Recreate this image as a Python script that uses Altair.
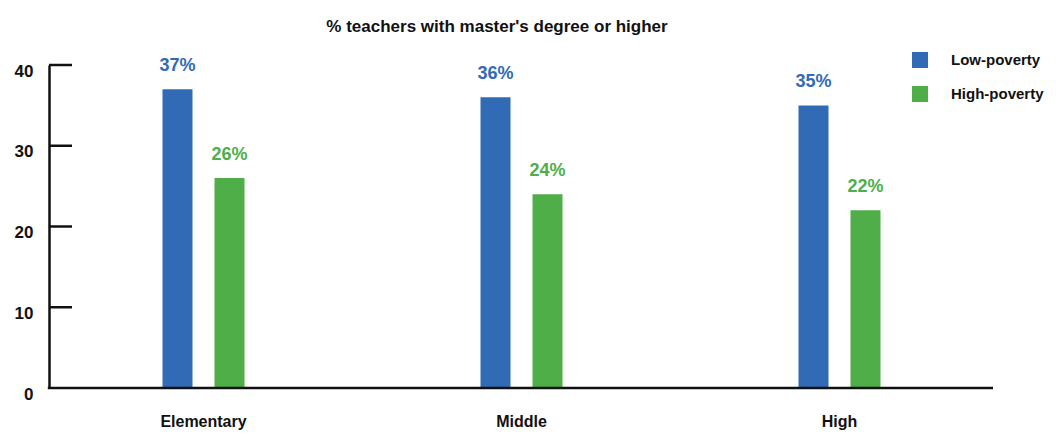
import altair as alt
import pandas as pd

levels = ["Elementary", "Middle", "High"]
groups = ["Low-poverty", "High-poverty"]
low_values = [37, 36, 35]
high_values = [26, 24, 22]
tick_values = [0, 10, 20, 30, 40]
colors = ["#316BB5", "#50AE48"]

FONT = "Liberation Sans, Arial, sans-serif"

rows = []
for i, lv in enumerate(levels):
    rows.append({"level": lv, "group": groups[0], "value": low_values[i]})
    rows.append({"level": lv, "group": groups[1], "value": high_values[i]})
df = pd.DataFrame(rows)
df["label"] = df["value"].astype(str) + "%"

ticks_df = pd.DataFrame({"t": tick_values[1:]})
base_df = pd.DataFrame({"t": [0]})

x_enc = alt.X("level:N", sort=levels, title=None,
              scale=alt.Scale(range=[-4.5, 949.5], paddingInner=0, paddingOuter=0),
              axis=alt.Axis(labelAngle=0, ticks=False, tickSize=0, labelPadding=25,
                            labelFontSize=16, labelFontWeight="bold", labelFont=FONT,
                            labelColor="#111111", domain=False))
xoff_scale = alt.Scale(range=[118, 200], paddingInner=0.4231, paddingOuter=0)
xoff_enc = alt.XOffset("group:N", sort=groups, scale=xoff_scale)
y_enc = alt.Y("value:Q", title=None,
              scale=alt.Scale(domain=[0, 40], nice=False),
              axis=alt.Axis(values=tick_values, grid=False, ticks=False, tickSize=0,
                            labelPadding=16, labelFontSize=17, labelFontWeight="bold",
                            labelFont=FONT, labelColor="#111111", labelBaseline="middle",
                            labelOffset=6, domainColor="#111111", domainWidth=2.5))
color_scale = alt.Scale(domain=groups, range=colors)

bars = alt.Chart(df).mark_bar().encode(
    x=x_enc,
    xOffset=xoff_enc,
    y=y_enc,
    color=alt.Color("group:N", sort=groups, scale=color_scale,
                    legend=alt.Legend(title=None, orient="none", legendX=863, legendY=-13,
                                      symbolType="square", symbolSize=256,
                                      symbolStrokeWidth=0, labelFontSize=15,
                                      labelFontWeight="bold", labelFont=FONT,
                                      labelColor="#111111", labelOffset=23,
                                      rowPadding=18, padding=0)),
)

texts = alt.Chart(df).mark_text(baseline="bottom", dy=-14, fontSize=18,
                                fontWeight="bold", font=FONT).encode(
    x=alt.X("level:N", sort=levels),
    xOffset=alt.XOffset("group:N", sort=groups),
    y=alt.Y("value:Q"),
    text="label:N",
    color=alt.Color("group:N", sort=groups, scale=color_scale, legend=None),
)

ticks = alt.Chart(ticks_df).mark_rule(color="#111111", strokeWidth=2.5).encode(
    y=alt.Y("t:Q"),
    x=alt.value(0),
    x2=alt.value(23),
)

baseline = alt.Chart(base_df).mark_rule(color="#111111", strokeWidth=2.5).encode(
    y=alt.Y("t:Q"),
    x=alt.value(-1.2),
    x2=alt.value(944),
)

chart = alt.layer(bars, texts, ticks, baseline).properties(
    width=944,
    height=323,
    padding={"left": 41, "top": 57, "right": 55, "bottom": 43},
    autosize=alt.AutoSizeParams(type="none"),
    title=alt.TitleParams("% teachers with master's degree or higher", fontSize=17,
                          fontWeight="bold", font=FONT, color="#111111",
                          anchor="middle", dx=-24, offset=16),
).configure_view(stroke=None)

chart.save("out.html", embed_options={"renderer": "svg", "actions": False})
